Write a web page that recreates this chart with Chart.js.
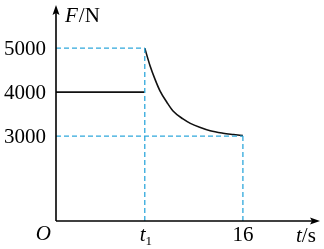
<!DOCTYPE html>
<html><head><meta charset="utf-8">
<script src="https://cdn.jsdelivr.net/npm/chart.js@4/dist/chart.umd.min.js"></script>
<style>html,body{margin:0;padding:0;background:#fff}#c{display:block}</style>
</head><body>
<canvas id="c" width="324" height="249"></canvas>
<script>
// data (schematic F-t graph)
const t1 = 7.6;
const tEnd = 16;
const yTicks = [3000, 4000, 5000];
const flatT = [0, t1];
const flatF = [4000, 4000];
const curveT = [t1, 8.05, 8.48, 8.9, 9.5, 10.02, 10.87, 11.5, 12.3, 13.2, 14.3, 15.2, 16];
const curveF = [5000, 4600, 4290, 4030, 3765, 3570, 3390, 3290, 3200, 3120, 3065, 3035, 3010];
const xLabels = ['t1', '16'];

const dashColor = '#2fa8dc';
const pts = (xs, ys) => xs.map((x, i) => ({x, y: ys[i]}));
const dashed = (data) => ({data, borderColor: dashColor, borderWidth: 1.3, borderDash: [5, 3], pointRadius: 0, fill: false, tension: 0});

const decor = {
  id: 'decor',
  afterDraw(chart) {
    const {ctx, chartArea: a, scales: {x, y}} = chart;
    const ox = x.getPixelForValue(0), oy = y.bottom;
    ctx.save();
    ctx.strokeStyle = '#000'; ctx.fillStyle = '#000'; ctx.lineWidth = 1.6;
    ctx.beginPath(); ctx.moveTo(ox, oy); ctx.lineTo(ox, a.top + 4); ctx.stroke();
    ctx.beginPath(); ctx.moveTo(ox, oy); ctx.lineTo(a.right - 4, oy); ctx.stroke();
    // arrowheads
    ctx.beginPath(); ctx.moveTo(ox, a.top); ctx.lineTo(ox - 3.5, a.top + 10); ctx.lineTo(ox, a.top + 8); ctx.lineTo(ox + 3.5, a.top + 10); ctx.closePath(); ctx.fill();
    ctx.beginPath(); ctx.moveTo(a.right, oy); ctx.lineTo(a.right - 10, oy - 3.5); ctx.lineTo(a.right - 8, oy); ctx.lineTo(a.right - 10, oy + 3.5); ctx.closePath(); ctx.fill();
    // y tick labels
    ctx.font = '21px "Liberation Serif"';
    ctx.textAlign = 'right'; ctx.textBaseline = 'middle';
    yTicks.forEach(v => ctx.fillText(String(v), ox - 10, y.getPixelForValue(v) + 1));
    // x labels
    ctx.textAlign = 'center'; ctx.textBaseline = 'top';
    ctx.font = 'italic 21px "Liberation Serif"';
    const px1 = x.getPixelForValue(t1);
    ctx.fillText('t', px1 - 2, oy + 4);
    ctx.font = '13px "Liberation Serif"';
    ctx.fillText('1', px1 + 4, oy + 14);
    ctx.font = '21px "Liberation Serif"';
    ctx.fillText('16', x.getPixelForValue(tEnd), oy + 4);
    // O
    ctx.font = 'italic 21px "Liberation Serif"';
    ctx.textAlign = 'right';
    ctx.fillText('O', ox - 5, oy + 3);
    // axis titles
    ctx.textAlign = 'left';
    ctx.font = 'italic 21px "Liberation Serif"';
    ctx.fillText('F', ox + 9, a.top + 1);
    let w = ctx.measureText('F').width;
    ctx.font = '21px "Liberation Serif"';
    ctx.fillText('/N', ox + 9 + w + 1, a.top + 1);
    ctx.font = 'italic 21px "Liberation Serif"';
    ctx.fillText('t', a.right - 24, oy + 5);
    w = ctx.measureText('t').width;
    ctx.font = '21px "Liberation Serif"';
    ctx.fillText('/s', a.right - 24 + w, oy + 5);
    ctx.restore();
  }
};

new Chart(document.getElementById('c'), {
  type: 'line',
  data: {
    datasets: [
      dashed(pts([0, t1], [5000, 5000])),
      dashed(pts([t1, t1], [5000, 1070])),
      dashed(pts([0, tEnd], [3000, 3000])),
      dashed(pts([tEnd, tEnd], [3000, 1070])),
      {data: pts(flatT, flatF), borderColor: '#111', borderWidth: 1.8, pointRadius: 0, tension: 0},
      {data: pts(curveT, curveF), borderColor: '#111', borderWidth: 1.6, pointRadius: 0, cubicInterpolationMode: 'monotone'}
    ]
  },
  options: {
    responsive: false, animation: false,
    layout: {padding: {left: 56, right: 4, top: 5, bottom: 28}},
    plugins: {legend: {display: false}, tooltip: {enabled: false}},
    scales: {
      x: {type: 'linear', min: 0, max: 22.6, display: false},
      y: {type: 'linear', min: 1070, max: 5980, display: false}
    }
  },
  plugins: [decor]
});
</script>
</body></html>
